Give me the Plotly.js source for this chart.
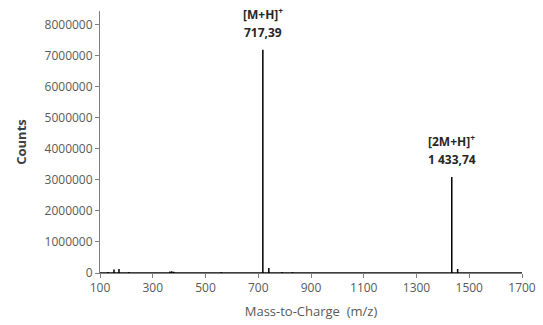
<!DOCTYPE html>
<html><head><meta charset="utf-8">
<script src="https://cdn.plot.ly/plotly-3.0.1.min.js"></script>
<style>html,body{margin:0;padding:0;background:#fff}#c{width:543px;height:325px}</style>
</head><body><div id="c"></div>
<script>
// peak list (m/z, counts)
const peakMz     = [130, 153, 172, 210, 290, 365, 372, 380, 560, 717.39, 740, 790, 830, 1000, 1200, 1433.74, 1456, 1600];
const peakCounts = [30000, 110000, 130000, 30000, 25000, 50000, 60000, 40000, 30000, 7200000, 160000, 30000, 35000, 25000, 25000, 3100000, 130000, 20000];
const xTicks = [100, 300, 500, 700, 900, 1100, 1300, 1500, 1700];
const yTicks = [0, 1000000, 2000000, 3000000, 4000000, 5000000, 6000000, 7000000, 8000000];
const labelTop = ['[M+H]<sup>+</sup>', '[2M+H]<sup>+</sup>'];
const labelMz = ['717,39', '1 433,74'];
const labelX = [717.39, 1433.74];
const labelY = [7200000, 3100000];

// stick spectrum from the peak list
const sx = [100], sy = [0];
peakMz.forEach((m, i) => { sx.push(m, m, m); sy.push(0, peakCounts[i], 0); });
sx.push(1700); sy.push(0);

const font = {family: '"Open Sans", sans-serif', size: 12, color: '#595959'};
const annFont = {family: '"Open Sans", sans-serif', size: 12, color: '#262626'};
const annotations = [];
labelX.forEach((x, i) => {
  annotations.push({x: x, y: labelY[i], xref: 'x', yref: 'y', text: '<b>' + labelMz[i] + '</b>', showarrow: false,
    yanchor: 'bottom', yshift: 7, font: annFont});
  annotations.push({x: x, y: labelY[i], xref: 'x', yref: 'y', text: '<b>' + labelTop[i] + '</b>', showarrow: false,
    yanchor: 'bottom', yshift: 25, font: annFont});
});

const data = [{x: sx, y: sy, type: 'scatter', mode: 'lines', line: {color: '#000', width: 1.5}, hoverinfo: 'none'}];
const layout = {
  width: 543, height: 325,
  margin: {l: 100, r: 21, t: 11, b: 52},
  paper_bgcolor: '#fff', plot_bgcolor: '#fff',
  showlegend: false,
  font: font,
  xaxis: {range: [100, 1700], tickvals: xTicks, ticktext: xTicks.map(String), showgrid: false, zeroline: false,
    showline: true, linecolor: '#7f7f7f', linewidth: 1, ticks: 'outside', ticklen: 4, tickcolor: '#7f7f7f',
    tickfont: font,
    title: {text: 'Mass-to-Charge  (m/z)', font: {family: '"Open Sans", sans-serif', size: 13, color: '#595959'}, standoff: 11}},
  yaxis: {range: [0, 8450000], tickvals: yTicks, ticktext: yTicks.map(String), showgrid: false, zeroline: false,
    showline: true, linecolor: '#7f7f7f', linewidth: 1, ticks: 'outside', ticklen: 4, tickcolor: '#7f7f7f',
    tickfont: font,
    title: {text: '<b>Counts</b>', font: {family: '"Open Sans", sans-serif', size: 13, color: '#404040'}, standoff: 15}},
  annotations: annotations
};
Plotly.newPlot('c', data, layout, {displayModeBar: false, staticPlot: true});
</script></body></html>
